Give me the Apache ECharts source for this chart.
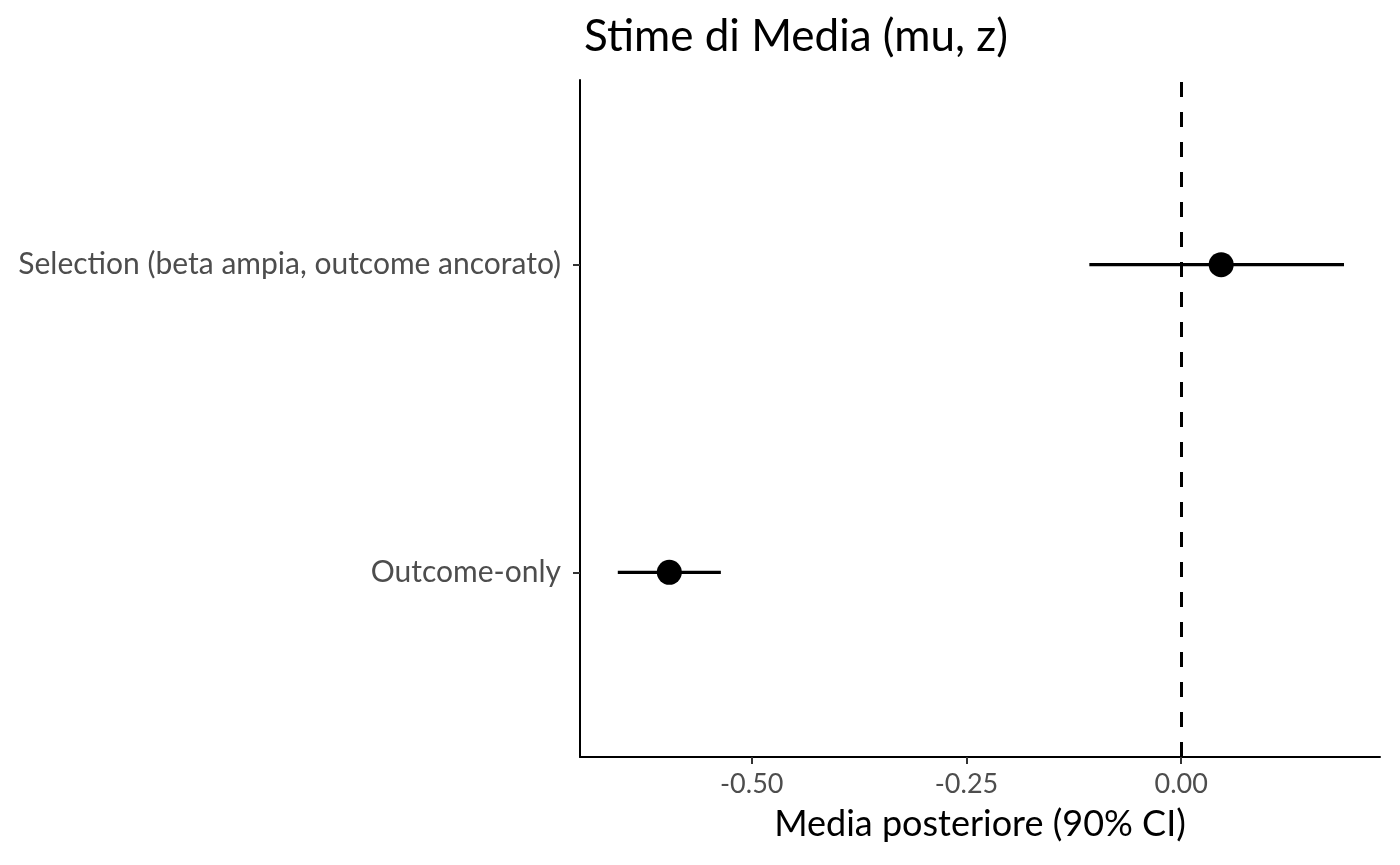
<!DOCTYPE html>
<html>
<head>
<meta charset="utf-8">
<script src="https://cdn.jsdelivr.net/npm/echarts@6/dist/echarts.min.js"></script>
<style>html,body{margin:0;padding:0;background:#fff}#c{width:1400px;height:865px}</style>
</head>
<body>
<div id="c"></div>
<script>
const categories = ['Outcome-only', 'Selection (beta ampia, outcome ancorato)'];
const means = [-0.596, 0.0465];
const lower = [-0.656, -0.107];
const upper = [-0.536, 0.1895];
const xTicks = [-0.5, -0.25, 0];
const xTickLabels = ['-0.50', '-0.25', '0.00'];

const FONT = 'Lato';
const pos = categories.map((c, i) => i + 1);

const chart = echarts.init(document.getElementById('c'), null, {renderer: 'canvas'});
chart.setOption({
  animation: false,
  backgroundColor: '#ffffff',
  title: {
    text: 'Stime di Media (mu, z)',
    left: 579, top: 10,
    textStyle: {fontFamily: FONT, fontSize: 44, fontWeight: 'normal', color: '#000'}
  },
  grid: {left: 580, right: 20, top: 80, bottom: 108, containLabel: false},
  xAxis: {
    type: 'value', min: -0.7, max: 0.2314,
    name: 'Media posteriore (90% CI)', nameLocation: 'middle', nameGap: 49,
    nameTextStyle: {fontFamily: FONT, fontSize: 36, color: '#000'},
    axisLine: {show: true, onZero: false, lineStyle: {color: '#000', width: 2}},
    axisTick: {show: true, length: 7, lineStyle: {color: '#333', width: 2}, customValues: xTicks},
    axisLabel: {fontFamily: FONT, fontSize: 27, color: '#4d4d4d', margin: 14, customValues: xTicks,
      formatter: v => { const i = xTicks.findIndex(t => Math.abs(t - v) < 1e-9); return i >= 0 ? xTickLabels[i] : ''; }},
    splitLine: {show: false}
  },
  yAxis: {
    type: 'value', min: 0.4, max: 2.6,
    axisLine: {show: true, onZero: false, lineStyle: {color: '#000', width: 2}},
    axisTick: {show: true, length: 7, lineStyle: {color: '#333', width: 2}, customValues: pos},
    axisLabel: {fontFamily: FONT, fontSize: 30, color: '#4d4d4d', margin: 19, customValues: pos,
      formatter: v => { const i = Math.round(v) - 1; return (Math.abs(v - Math.round(v)) < 1e-9 && categories[i]) ? categories[i] : ''; }},
    splitLine: {show: false}
  },
  series: [
    {
      type: 'custom',
      data: pos.map((p, i) => [lower[i], upper[i], p]),
      renderItem: function (params, api) {
        const a = api.coord([api.value(0), api.value(2)]);
        const b = api.coord([api.value(1), api.value(2)]);
        return {type: 'line', shape: {x1: a[0], y1: a[1], x2: b[0], y2: b[1]},
          style: {stroke: '#000', lineWidth: 3.4}};
      },
      z: 2
    },
    {
      type: 'scatter',
      data: pos.map((p, i) => [means[i], p]),
      symbol: 'circle', symbolSize: 25,
      itemStyle: {color: '#000', opacity: 1},
      z: 3,
      markLine: {
        silent: true, symbol: 'none', label: {show: false},
        lineStyle: {color: '#000', width: 3, type: [15, 15], opacity: 1},
        data: [{xAxis: 0}]
      }
    }
  ]
});
</script>
</body>
</html>
